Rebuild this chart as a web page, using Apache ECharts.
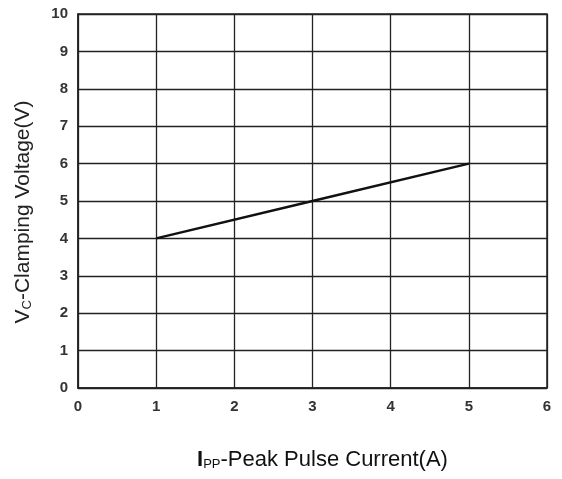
<!DOCTYPE html>
<html>
<head>
<meta charset="utf-8">
<script src="https://cdn.jsdelivr.net/npm/echarts@6/dist/echarts.min.js"></script>
<style>
  html, body { margin: 0; padding: 0; background: #fff; }
  #chart { width: 562px; height: 479px; }
</style>
</head>
<body>
<div id="chart"></div>
<script>
// 数据
const currentA = [1, 3, 5]
const voltageV = [4, 5, 6]
const xTicks = [0, 1, 2, 3, 4, 5, 6]
const yTicks = [0, 1, 2, 3, 4, 5, 6, 7, 8, 9, 10]

const myChart = echarts.init(document.getElementById('chart'), null, { renderer: 'canvas' })

const gridLine = { show: true, lineStyle: { color: '#222', width: 1.3 } }
const tickLabel = {
  color: '#333',
  fontFamily: 'Liberation Sans, Arial, sans-serif',
  fontWeight: 'bold',
  fontSize: 15
}
const font = 'Liberation Sans, Arial, sans-serif'

const option = {
  animation: false,
  backgroundColor: '#fff',
  grid: {
    left: 78, top: 14, right: 15, bottom: 91,
    outerBoundsMode: 'none',
    containLabel: false,
    show: true, borderColor: '#222', borderWidth: 1.5
  },
  xAxis: {
    type: 'value',
    min: xTicks[0],
    max: xTicks[xTicks.length - 1],
    interval: 1,
    axisLine: { show: true, lineStyle: { color: '#222', width: 1.5 } },
    axisTick: { show: false },
    splitLine: gridLine,
    axisLabel: Object.assign({ margin: 11 }, tickLabel),
    name: '{b|I}{s|PP}{n|-Peak Pulse Current(A)}',
    nameLocation: 'middle',
    nameGap: 61,
    nameTextStyle: {
      padding: [0, 0, 0, 20],
      rich: {
        b: { fontFamily: font, fontWeight: 'bold', fontSize: 22, color: '#111' },
        s: { fontFamily: font, fontSize: 13, color: '#111', verticalAlign: 'bottom', padding: [8, 0, 0, 0] },
        n: { fontFamily: font, fontSize: 22, color: '#111' }
      }
    }
  },
  yAxis: {
    type: 'value',
    min: yTicks[0],
    max: yTicks[yTicks.length - 1],
    interval: 1,
    axisLine: { show: true, lineStyle: { color: '#222', width: 1.5 } },
    axisTick: { show: false },
    splitLine: gridLine,
    axisLabel: Object.assign({ margin: 10 }, tickLabel),
    name: '{n|V}{s|C}{n|-Clamping Voltage(V)}',
    nameLocation: 'middle',
    nameGap: 44,
    nameRotate: 90,
    nameTextStyle: {
      padding: [0, 22, 0, 0],
      rich: {
        s: { fontFamily: font, fontSize: 13, color: '#222', verticalAlign: 'bottom', padding: [8, 0, 0, 0] },
        n: { fontFamily: font, fontSize: 21, color: '#222' }
      }
    }
  },
  series: [
    {
      type: 'line',
      data: currentA.map((x, i) => [x, voltageV[i]]),
      symbol: 'none',
      lineStyle: { color: '#111', width: 2.5 }
    }
  ]
}

myChart.setOption(option)
</script>
</body>
</html>
